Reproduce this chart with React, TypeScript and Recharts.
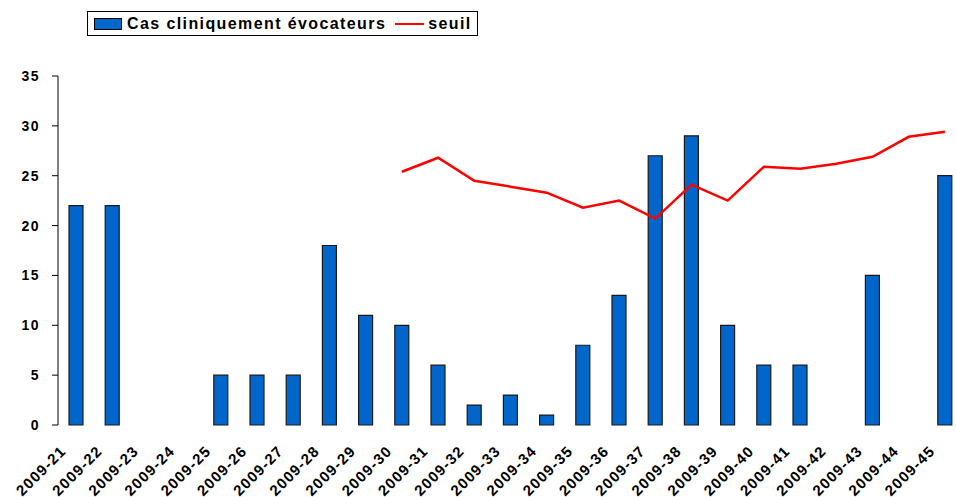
import { ComposedChart, Bar, Line, XAxis, YAxis } from 'recharts';

const weeks = [
  '2009-21', '2009-22', '2009-23', '2009-24', '2009-25', '2009-26', '2009-27',
  '2009-28', '2009-29', '2009-30', '2009-31', '2009-32', '2009-33', '2009-34',
  '2009-35', '2009-36', '2009-37', '2009-38', '2009-39', '2009-40', '2009-41',
  '2009-42', '2009-43', '2009-44', '2009-45',
];

const cases = [22, 22, 0, 0, 5, 5, 5, 18, 11, 10, 6, 2, 3, 1, 8, 13, 27, 29, 10, 6, 6, 0, 15, 0, 25];

const threshold: (number | null)[] = [
  null, null, null, null, null, null, null, null, null,
  25.4, 26.8, 24.5, 23.9, 23.3, 21.8, 22.5, 20.7, 24.1, 22.5, 25.9, 25.7, 26.2, 26.9, 28.9, 29.4,
];

const yTicks = [0, 5, 10, 15, 20, 25, 30, 35];
const boundaryTicks = Array.from({ length: weeks.length + 1 }, (_, i) => i);

const data = weeks.map((week, i) => ({ week, cases: cases[i], seuil: threshold[i] }));

const FONT = '"Liberation Sans", Arial, sans-serif';

function WeekTick({ x, y, payload }: any) {
  return (
    <g transform={`translate(${x - 9},${y + 19})`}>
      <text
        textAnchor="end"
        transform="rotate(-45)"
        fontFamily={FONT}
        fontWeight="bold"
        fontSize={15}
        letterSpacing={1.2}
        fill="#000"
      >
        {payload.value}
      </text>
    </g>
  );
}

function ChartLegend() {
  return (
    <div
      style={{
        position: 'absolute', left: 87, top: 11, width: 389, height: 23,
        border: '1px solid #000', background: '#fff', display: 'flex', alignItems: 'center',
        fontFamily: FONT, fontWeight: 'bold', fontSize: 16, letterSpacing: 1.4, color: '#000',
        boxSizing: 'content-box',
      }}
    >
      <span style={{ width: 26, height: 10, background: '#0066CC', border: '1px solid #000', marginLeft: 6, marginRight: 5 }} />
      <span>Cas cliniquement évocateurs</span>
      <span style={{ width: 29, height: 2, background: '#FF0000', marginLeft: 9, marginRight: 4 }} />
      <span>seuil</span>
    </div>
  );
}

export default function App() {
  return (
    <div style={{ position: 'absolute', left: 0, top: 0, width: 956, height: 497, overflow: 'hidden', background: '#fff' }}>
      <ComposedChart
        width={970}
        height={497}
        data={data}
        margin={{ top: 76, right: 7, bottom: 0, left: 0 }}
      >
        <XAxis
          xAxisId="grid"
          type="number"
          domain={[0, weeks.length]}
          ticks={boundaryTicks}
          tick={false}
          tickSize={6}
          tickLine={{ stroke: '#000' }}
          axisLine={{ stroke: '#000' }}
          height={0}
          allowDataOverflow
        />
        <XAxis
          xAxisId="cat"
          dataKey="week"
          interval={0}
          tickLine={false}
          axisLine={false}
          tick={<WeekTick />}
          height={72}
        />
        <YAxis
          domain={[0, 35]}
          ticks={yTicks}
          width={58}
          tickSize={6}
          tickMargin={12}
          tickLine={{ stroke: '#000' }}
          axisLine={{ stroke: '#000' }}
          tick={{ fontFamily: FONT, fontWeight: 'bold', fontSize: 14, fill: '#000', letterSpacing: 1.5 }}
        />
        <Bar
          xAxisId="cat"
          dataKey="cases"
          fill="#0066CC"
          stroke="#1a1a1a"
          strokeWidth={1.2}
          barSize={14}
          isAnimationActive={false}
        />
        <Line
          xAxisId="cat"
          dataKey="seuil"
          stroke="#FF0000"
          strokeWidth={2.5}
          dot={false}
          activeDot={false}
          isAnimationActive={false}
        />
      </ComposedChart>
      <ChartLegend />
    </div>
  );
}
